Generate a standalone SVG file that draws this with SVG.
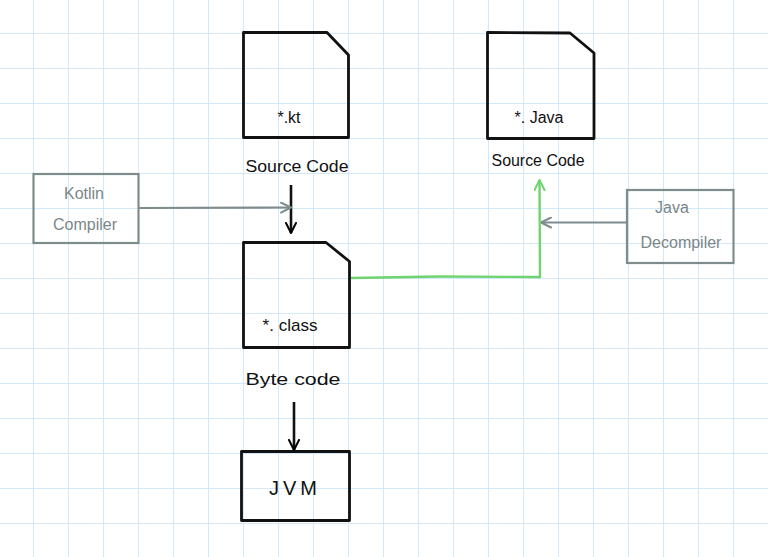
<svg xmlns="http://www.w3.org/2000/svg" width="768" height="557" viewBox="0 0 768 557">
<defs>
<pattern id="grid" x="33" y="33" width="35" height="35" patternUnits="userSpaceOnUse">
<path d="M0,0 V35 M0,0 H35" fill="none" stroke="#d3e8f9" stroke-width="2"/>
</pattern>
<marker id="ab" viewBox="0 0 12 12" refX="11" refY="6" markerWidth="12" markerHeight="12" markerUnits="userSpaceOnUse" orient="auto">
<path d="M1,1 L11,6 L1,11" fill="none" stroke="#000" stroke-width="2" stroke-linecap="round" stroke-linejoin="round"/>
</marker>
<marker id="ag" viewBox="0 0 12 12" refX="11" refY="6" markerWidth="12" markerHeight="12" markerUnits="userSpaceOnUse" orient="auto">
<path d="M1,1 L11,6 L1,11" fill="none" stroke="#7f8c8d" stroke-width="2" stroke-linecap="round" stroke-linejoin="round"/>
</marker>
<marker id="agr" viewBox="0 0 12 12" refX="11" refY="6" markerWidth="12" markerHeight="12" markerUnits="userSpaceOnUse" orient="auto">
<path d="M1,1 L11,6 L1,11" fill="none" stroke="#6fd46f" stroke-width="2" stroke-linecap="round" stroke-linejoin="round"/>
</marker>
</defs>
<style>
.doc{fill:none;stroke:#111;stroke-width:2.8;stroke-linejoin:round;stroke-linecap:round}
.gbox{fill:none;stroke:#7f8c8d;stroke-width:2.2}
.t{font-family:"Liberation Sans",sans-serif;fill:#111;text-anchor:middle}
.gt{font-family:"Liberation Sans",sans-serif;fill:#7a8788;text-anchor:middle;font-size:16px}
.lbl{font-size:16px}
</style>
<rect width="768" height="557" fill="#fff"/>
<rect width="768" height="557" fill="url(#grid)"/>

<g id="kt-file">
<path class="doc" d="M243.5,32.5 L327,32.5 L348.5,55 L348.5,137.5 L243.5,137.5 Z"/>
<text class="t" x="289" y="123" font-size="16">*.kt</text>
<text class="t lbl" x="297" y="172" textLength="103" lengthAdjust="spacingAndGlyphs">Source Code</text>
</g>

<g id="java-file">
<path class="doc" d="M487.5,32.5 L570,33 L594,53 L594,138.5 L487.5,138.5 Z"/>
<text class="t" x="539" y="123" font-size="16">*. Java</text>
<text class="t lbl" x="538" y="166" textLength="93" lengthAdjust="spacingAndGlyphs">Source Code</text>
</g>

<g id="class-file">
<path class="doc" d="M243.5,242.5 L326,242.5 L349.5,261.5 L349.5,347.5 L243.5,347.5 Z"/>
<text class="t" x="290" y="331" font-size="17">*. class</text>
<text class="t lbl" x="293" y="385" textLength="95" lengthAdjust="spacingAndGlyphs">Byte code</text>
</g>

<g id="jvm">
<rect class="doc" x="241.5" y="451.5" width="108" height="69"/>
<text class="t" x="295" y="495" font-size="20" letter-spacing="4">JVM</text>
</g>

<g id="kotlin-compiler">
<rect class="gbox" x="33.5" y="174" width="105" height="69"/>
<text class="gt" x="84" y="199">Kotlin</text>
<text class="gt" x="85" y="230">Compiler</text>
</g>

<g id="java-decompiler">
<rect class="gbox" x="627" y="190" width="106.5" height="73"/>
<text class="gt" x="672" y="213">Java</text>
<text class="gt" x="681" y="248">Decompiler</text>
</g>

<g id="connectors" fill="none">
<path d="M291,185 L291,233" stroke="#111" stroke-width="2.6" marker-end="url(#ab)"/>
<path d="M294,402 L294,450" stroke="#111" stroke-width="2.6" marker-end="url(#ab)"/>
<path d="M138.5,208 L291,207.5" stroke="#7f8c8d" stroke-width="2.2" marker-end="url(#ag)"/>
<path d="M627,222.5 L541,222.5" stroke="#7f8c8d" stroke-width="2.2" marker-end="url(#ag)"/>
<path d="M351,278 L440,276.5 L540,277 L539.5,180" stroke="#6fd46f" stroke-width="2.4" stroke-linejoin="round" marker-end="url(#agr)"/>
</g>
</svg>
